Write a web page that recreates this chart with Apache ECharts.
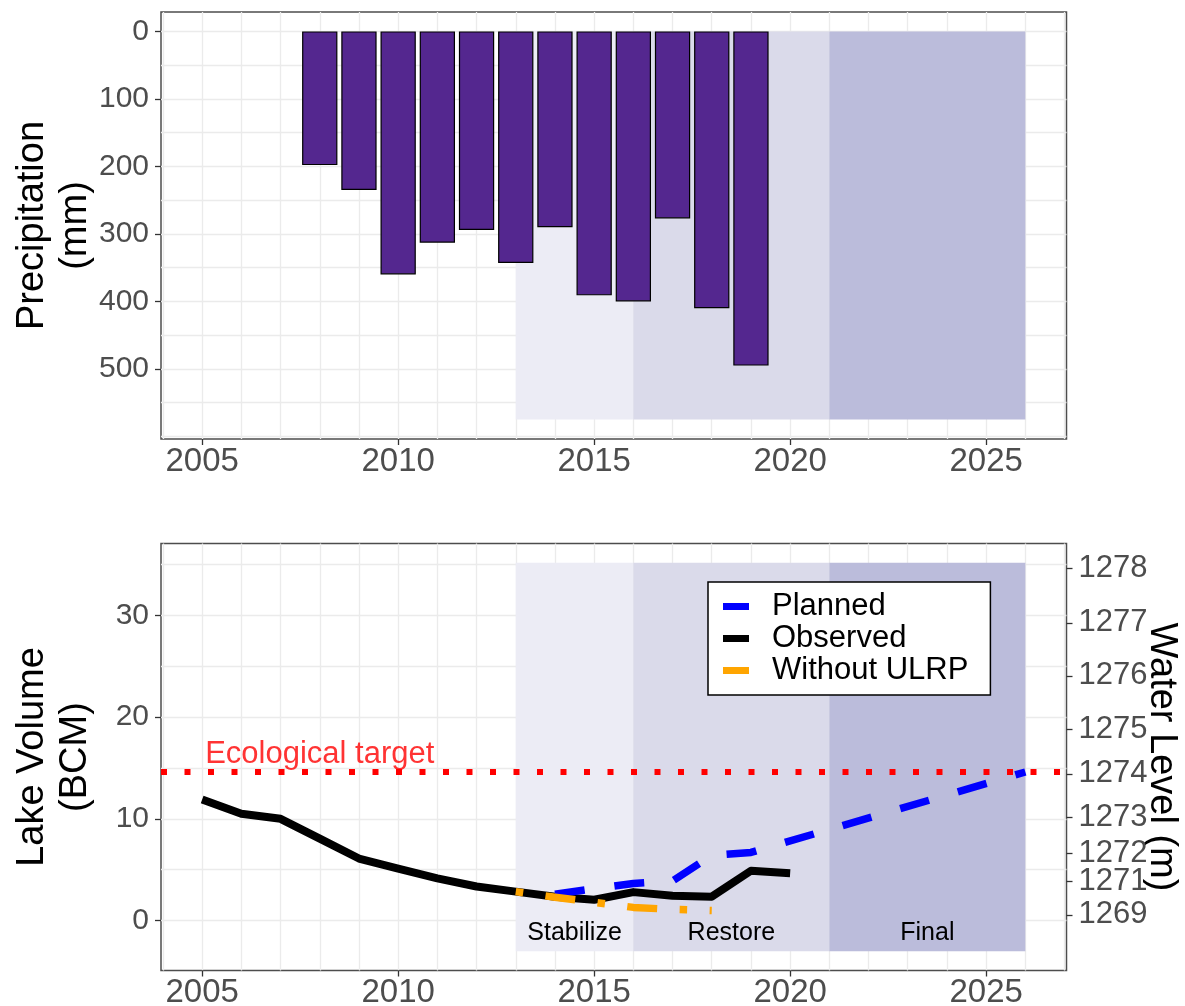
<!DOCTYPE html>
<html>
<head>
<meta charset="utf-8">
<script src="https://cdn.jsdelivr.net/npm/echarts@6/dist/echarts.min.js"></script>
<style>
  html, body { margin: 0; padding: 0; background: #ffffff; }
  #chart { width: 1185px; height: 1006px; }
</style>
</head>
<body>
<div id="chart"></div>
<script>
// Annual precipitation over the basin (mm)
const precipYears = [2008, 2009, 2010, 2011, 2012, 2013, 2014, 2015, 2016, 2017, 2018, 2019];
const precipMm = [198, 235, 360, 313, 294, 343, 290, 391, 400, 277, 410, 495];

// Lake volume (billion cubic metres)
const observedYears = [2005, 2006, 2007, 2008, 2009, 2010, 2011, 2012, 2013, 2014, 2015, 2016, 2017, 2018, 2019, 2020];
const observedVolume = [11.9, 10.5, 10.0, 8.05, 6.1, 5.1, 4.15, 3.35, 2.85, 2.35, 2.05, 2.8, 2.45, 2.35, 4.9, 4.65];

const plannedYears = [2014, 2015, 2016, 2017, 2018, 2019, 2026];
const plannedVolume = [2.6, 3.15, 3.65, 3.9, 6.4, 6.7, 14.6];

const withoutYears = [2013, 2014, 2015, 2016, 2017, 2018];
const withoutVolume = [2.85, 2.3, 1.8, 1.3, 1.1, 1.0];

const ecologicalTarget = 14.6;

// Programme stages
const stageNames = ['Stabilize', 'Restore', 'Final'];
const stageStart = [2013, 2016, 2021];
const stageEnd = [2016, 2021, 2026];

// Axis ticks and labels
const yearTicks = [2005, 2010, 2015, 2020, 2025];
const yearGrid = [2004, 2005, 2006, 2007, 2008, 2009, 2010, 2011, 2012, 2013, 2014, 2015,
                  2016, 2017, 2018, 2019, 2020, 2021, 2022, 2023, 2024, 2025, 2026, 2027];
const precipTicks = [0, 100, 200, 300, 400, 500];
const precipGrid = [0, 50, 100, 150, 200, 250, 300, 350, 400, 450, 500, 550, 600];
const volumeTicks = [0, 10, 20, 30];
const volumeGrid = [0, 5, 10, 15, 20, 25, 30, 35];
// Water level (m) shown against the matching lake volume (BCM)
const levelTicks = [1269, 1271, 1272, 1273, 1274, 1275, 1276, 1277, 1278];
const levelTickVolume = [0.56, 3.82, 6.6, 10.18, 14.42, 18.83, 24.04, 29.26, 34.64];

// Panel extents
const yearMin = 2003.95, yearMax = 2027.05;
const precipMin = -28.75, precipMax = 603.75, precipShadeMax = 575;
const volumeMin = -4.9, volumeMax = 37.05, volumeShadeMin = -3, volumeShadeMax = 35.15;

const FONT = '"Liberation Sans", Arial, Helvetica, sans-serif';
const TICK_TEXT = '#4d4d4d';
const GRID_LINE = { color: '#ebebeb', width: 1.3 };
const TICK_LINE = { color: '#333333', width: 1.3 };
const SHADES = ['#ECECF5', '#DADAEA', '#BBBCDB'];
const TITLE_TEXT = { fontSize: 38, color: '#000', lineHeight: 43, fontFamily: FONT };

const pairs = (xs, ys) => xs.map((x, i) => [x, ys[i]]);
const plain = v => String(v);

function labelAxisX(gridIndex) {
  return {
    gridIndex, type: 'value', min: yearMin, max: yearMax, position: 'bottom',
    axisLine: { show: false, onZero: false },
    axisTick: { show: true, customValues: yearTicks, length: 6, lineStyle: TICK_LINE },
    axisLabel: { customValues: yearTicks, formatter: plain, fontSize: 33, color: TICK_TEXT, margin: 6, fontFamily: FONT },
    splitLine: { show: false }
  };
}
function gridAxisX(gridIndex) {
  return {
    gridIndex, type: 'value', min: yearMin, max: yearMax, position: 'top',
    axisLine: { show: false, onZero: false },
    axisTick: { show: false, customValues: yearGrid },
    axisLabel: { show: false },
    splitLine: { show: true, lineStyle: GRID_LINE }
  };
}

const chart = echarts.init(document.getElementById('chart'), null, { renderer: 'canvas' });

const option = {
  animation: false,
  backgroundColor: '#ffffff',
  textStyle: { fontFamily: FONT },
  grid: [
    { left: 161, top: 12, width: 905.5, height: 427, outerBoundsMode: 'none', containLabel: false,
      show: true, backgroundColor: '#ffffff', borderColor: '#4d4d4d', borderWidth: 1.5 },
    { left: 161, top: 543.5, width: 905.5, height: 427, outerBoundsMode: 'none', containLabel: false,
      show: true, backgroundColor: '#ffffff', borderColor: '#4d4d4d', borderWidth: 1.5 }
  ],
  xAxis: [labelAxisX(0), gridAxisX(0), labelAxisX(1), gridAxisX(1)],
  yAxis: [
    {
      gridIndex: 0, type: 'value', inverse: true, min: precipMin, max: precipMax, position: 'left',
      axisLine: { show: false, onZero: false },
      axisTick: { show: true, customValues: precipTicks, length: 6, lineStyle: TICK_LINE },
      axisLabel: { customValues: precipTicks, formatter: plain, fontSize: 30, color: TICK_TEXT, margin: 12, fontFamily: FONT },
      splitLine: { show: false },
      name: 'Precipitation\n(mm)', nameLocation: 'middle', nameRotate: 90, nameGap: 64, nameMoveOverlap: false,
      nameTextStyle: TITLE_TEXT
    },
    {
      gridIndex: 0, type: 'value', inverse: true, min: precipMin, max: precipMax, position: 'right',
      axisLine: { show: false, onZero: false }, axisTick: { show: false, customValues: precipGrid }, axisLabel: { show: false },
      splitLine: { show: true, lineStyle: GRID_LINE }
    },
    {
      gridIndex: 1, type: 'value', min: volumeMin, max: volumeMax, position: 'left',
      axisLine: { show: false, onZero: false },
      axisTick: { show: true, customValues: volumeTicks, length: 6, lineStyle: TICK_LINE },
      axisLabel: { customValues: volumeTicks, formatter: plain, fontSize: 30, color: TICK_TEXT, margin: 12, fontFamily: FONT },
      splitLine: { show: false },
      name: 'Lake Volume\n(BCM)', nameLocation: 'middle', nameRotate: 90, nameGap: 64, nameMoveOverlap: false,
      nameTextStyle: TITLE_TEXT
    },
    {
      gridIndex: 1, type: 'value', min: volumeMin, max: volumeMax, position: 'left',
      axisLine: { show: false, onZero: false }, axisTick: { show: false, customValues: volumeGrid }, axisLabel: { show: false },
      splitLine: { show: true, lineStyle: GRID_LINE }
    },
    {
      gridIndex: 1, type: 'value', min: volumeMin, max: volumeMax, position: 'right',
      axisLine: { show: false, onZero: false },
      axisTick: { show: true, customValues: levelTickVolume, length: 6, lineStyle: TICK_LINE },
      axisLabel: {
        customValues: levelTickVolume, fontSize: 31, color: TICK_TEXT, margin: 12, fontFamily: FONT,
        formatter: v => {
          const i = levelTickVolume.findIndex(t => Math.abs(t - v) < 1e-6);
          return i >= 0 ? String(levelTicks[i]) : '';
        }
      },
      splitLine: { show: false },
      name: 'Water Level (m)', nameLocation: 'middle', nameRotate: -90, nameGap: 73, nameMoveOverlap: false,
      nameTextStyle: TITLE_TEXT
    }
  ],
  legend: {
    data: ['Planned', 'Observed', 'Without ULRP'],
    orient: 'vertical', left: 708, top: 582,
    icon: 'rect', itemWidth: 26, itemHeight: 7, itemGap: 1,
    backgroundColor: '#ffffff', borderColor: '#000000', borderWidth: 1.5, borderRadius: 0,
    padding: [9, 22, 9, 15],
    textStyle: { fontSize: 31, color: '#000', fontFamily: FONT, padding: [0, 0, 0, 18] }
  },
  series: [
    {
      // stage shading behind the precipitation bars
      type: 'line', xAxisIndex: 0, yAxisIndex: 0, data: [], z: 1, silent: true,
      markArea: {
        silent: true,
        data: stageNames.map((n, i) => [
          { xAxis: stageStart[i], yAxis: 0, itemStyle: { color: SHADES[i] } },
          { xAxis: stageEnd[i], yAxis: precipShadeMax }
        ])
      }
    },
    {
      name: 'Precipitation', type: 'bar', xAxisIndex: 0, yAxisIndex: 0, z: 3,
      barWidth: 35.3,
      itemStyle: { color: '#54278F', borderColor: '#000000', borderWidth: 1.2 },
      data: pairs(precipYears, precipMm)
    },
    {
      // stage shading, stage names and the ecological target in the volume panel
      type: 'line', xAxisIndex: 2, yAxisIndex: 2, data: [], z: 1, silent: true,
      markArea: {
        silent: true,
        label: { show: true, position: 'insideBottom', distance: 6, fontSize: 25, color: '#000', fontFamily: FONT },
        data: stageNames.map((n, i) => [
          { name: n, xAxis: stageStart[i], yAxis: volumeShadeMin, itemStyle: { color: SHADES[i] } },
          { xAxis: stageEnd[i], yAxis: volumeShadeMax }
        ])
      },
      markLine: {
        silent: true, symbol: 'none', label: { show: false },
        lineStyle: { color: '#FF0000', width: 6, type: [6, 17.5], cap: 'butt' },
        data: [{ yAxis: ecologicalTarget }]
      }
    },
    {
      name: 'Observed', type: 'line', xAxisIndex: 2, yAxisIndex: 2, z: 3,
      symbol: 'none', showSymbol: false, color: '#000000',
      lineStyle: { color: '#000000', width: 8, cap: 'butt', join: 'round' },
      data: pairs(observedYears, observedVolume)
    },
    {
      name: 'Planned', type: 'line', xAxisIndex: 2, yAxisIndex: 2, z: 4,
      symbol: 'none', showSymbol: false, color: '#0000FF',
      lineStyle: { color: '#0000FF', width: 7.5, type: [30, 30], cap: 'butt', join: 'round' },
      data: pairs(plannedYears, plannedVolume)
    },
    {
      name: 'Without ULRP', type: 'line', xAxisIndex: 2, yAxisIndex: 2, z: 5,
      symbol: 'none', showSymbol: false, color: '#FFA500',
      lineStyle: { color: '#FFA500', width: 7.5, type: [7.5, 22.5, 30, 22.5], cap: 'butt', join: 'round' },
      data: pairs(withoutYears, withoutVolume)
    },
    {
      name: 'Ecological target', type: 'scatter', xAxisIndex: 2, yAxisIndex: 2, z: 6,
      symbolSize: 0, silent: true,
      label: { show: true, position: 'inside', formatter: 'Ecological target', fontSize: 31, color: '#FF0000', fontFamily: FONT },
      data: [[2008, 16.3]]
    }
  ]
};

chart.setOption(option);
</script>
</body>
</html>
